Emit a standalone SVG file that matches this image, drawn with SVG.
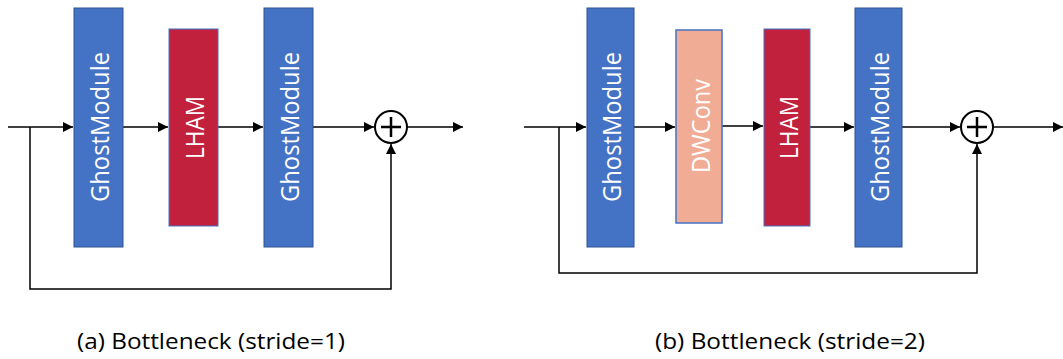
<svg xmlns="http://www.w3.org/2000/svg" width="1063" height="359" viewBox="0 0 1063 359">
  <style>
    .ghost { fill: #4472C4; stroke: #2F528F; stroke-width: 1; }
    .lham { fill: #C1213D; stroke: #4472C4; stroke-width: 1; }
    .dw { fill: #F0AC94; stroke: #4472C4; stroke-width: 1.5; }
    .lbl { font-family: "Open Sans", "Noto Sans", sans-serif; font-size: 25px; fill: #FFFFFF; text-anchor: middle; dominant-baseline: central; }
    .cap { font-family: "Open Sans", "Noto Sans", sans-serif; font-size: 21px; fill: #000000; }
    .wire { fill: none; stroke: #000000; stroke-width: 1.5; }
    .sum { fill: #FFFFFF; stroke: #000000; stroke-width: 2; }
  </style>
  <defs>
    <marker id="arrow" viewBox="0 0 10 10" refX="10" refY="5" markerWidth="10" markerHeight="10" markerUnits="userSpaceOnUse" orient="auto">
      <path d="M0,0 L10,5 L0,10 z" fill="#000000"/>
    </marker>
  </defs>

  <rect width="1063" height="359" fill="#FFFFFF"/>

  <!-- connectors -->
  <g id="connectors">
    <!-- (a) stride 1 -->
    <path class="wire" d="M8,127 H73" marker-end="url(#arrow)"/>
    <path class="wire" d="M123,127 H168" marker-end="url(#arrow)"/>
    <path class="wire" d="M218,127 H263" marker-end="url(#arrow)"/>
    <path class="wire" d="M313,127 H374" marker-end="url(#arrow)"/>
    <path class="wire" d="M407,127 H463" marker-end="url(#arrow)"/>
    <path class="wire" d="M30,127 V289 H391 V144" marker-end="url(#arrow)"/>
    <!-- (b) stride 2 -->
    <path class="wire" d="M524,127 H586" marker-end="url(#arrow)"/>
    <path class="wire" d="M634,127 H675" marker-end="url(#arrow)"/>
    <path class="wire" d="M722,126 H763" marker-end="url(#arrow)"/>
    <path class="wire" d="M810,127 H854" marker-end="url(#arrow)"/>
    <path class="wire" d="M902,127 H960" marker-end="url(#arrow)"/>
    <path class="wire" d="M993,127 H1063" marker-end="url(#arrow)"/>
    <path class="wire" d="M559,127 V273 H977 V144" marker-end="url(#arrow)"/>
  </g>

  <!-- (a) nodes -->
  <g id="a-ghost1">
    <rect class="ghost" x="74" y="8" width="49" height="239"/>
    <text class="lbl" transform="translate(99,127) rotate(-90)" textLength="150" lengthAdjust="spacingAndGlyphs">GhostModule</text>
  </g>
  <g id="a-lham">
    <rect class="lham" x="169" y="29" width="49" height="197"/>
    <text class="lbl" transform="translate(194,127.5) rotate(-90)" textLength="63" lengthAdjust="spacingAndGlyphs">LHAM</text>
  </g>
  <g id="a-ghost2">
    <rect class="ghost" x="264" y="8" width="49" height="239"/>
    <text class="lbl" transform="translate(289,127) rotate(-90)" textLength="150" lengthAdjust="spacingAndGlyphs">GhostModule</text>
  </g>
  <g id="a-sum">
    <circle class="sum" cx="391" cy="127" r="16"/>
    <path d="M381,127 H401 M391,117 V137" stroke="#000000" stroke-width="2.5" fill="none"/>
  </g>

  <!-- (b) nodes -->
  <g id="b-ghost1">
    <rect class="ghost" x="587" y="8" width="47" height="239"/>
    <text class="lbl" transform="translate(611,127) rotate(-90)" textLength="150" lengthAdjust="spacingAndGlyphs">GhostModule</text>
  </g>
  <g id="b-dwconv">
    <rect class="dw" x="676" y="30" width="46" height="193"/>
    <text class="lbl" transform="translate(699.5,126) rotate(-90)" textLength="94" lengthAdjust="spacingAndGlyphs">DWConv</text>
  </g>
  <g id="b-lham">
    <rect class="lham" x="764" y="29" width="46" height="197"/>
    <text class="lbl" transform="translate(787.5,127.5) rotate(-90)" textLength="63" lengthAdjust="spacingAndGlyphs">LHAM</text>
  </g>
  <g id="b-ghost2">
    <rect class="ghost" x="855" y="8" width="47" height="239"/>
    <text class="lbl" transform="translate(879,127) rotate(-90)" textLength="150" lengthAdjust="spacingAndGlyphs">GhostModule</text>
  </g>
  <g id="b-sum">
    <circle class="sum" cx="977" cy="127" r="16"/>
    <path d="M967,127 H987 M977,117 V137" stroke="#000000" stroke-width="2.5" fill="none"/>
  </g>

  <!-- captions -->
  <text class="cap" x="77" y="349" textLength="268" lengthAdjust="spacingAndGlyphs">(a) Bottleneck (stride=1)</text>
  <text class="cap" x="655" y="349" textLength="270" lengthAdjust="spacingAndGlyphs">(b) Bottleneck (stride=2)</text>
</svg>
